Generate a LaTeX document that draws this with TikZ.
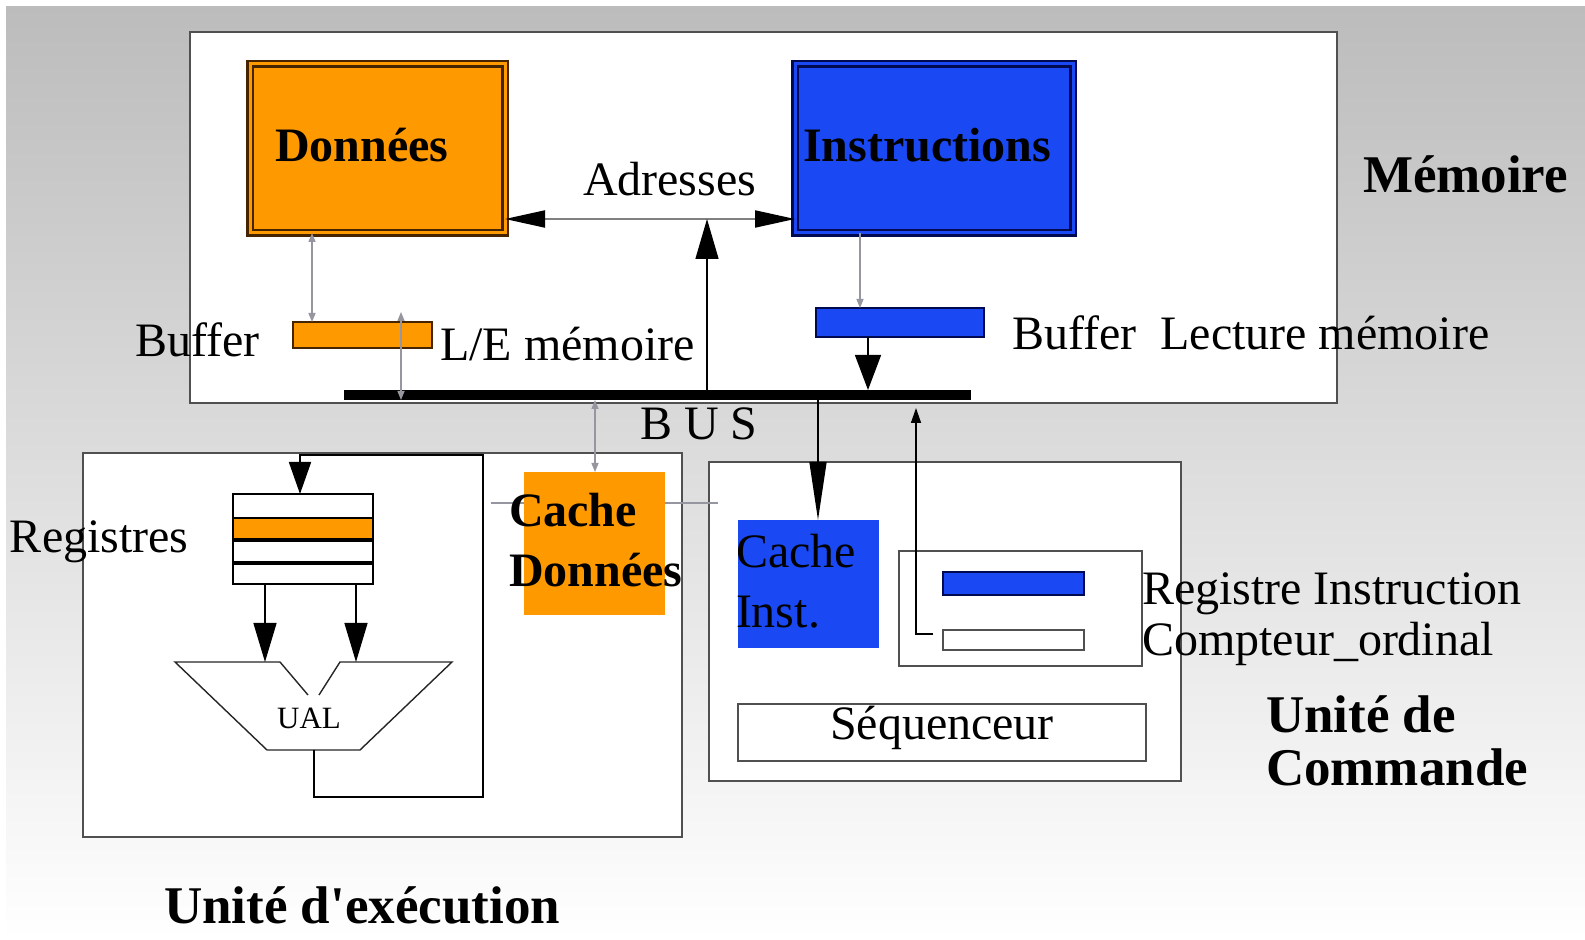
\documentclass[tikz,border=0pt]{standalone}
\usepackage{fontspec}
\setmainfont{Liberation Serif}
\usetikzlibrary{arrows.meta,fit}

\definecolor{orangeD}{RGB}{255,153,0}
\definecolor{brownD}{RGB}{70,36,0}
\definecolor{blueI}{RGB}{26,72,242}
\definecolor{navyI}{RGB}{0,10,80}
\definecolor{frameG}{RGB}{80,80,80}
\definecolor{linkG}{RGB}{150,150,160}
\definecolor{bgTop}{RGB}{188,188,188}

\begin{document}
\begin{tikzpicture}[x=0.5pt,y=-0.5pt,
  area/.style={inner sep=0pt, outer sep=0pt},
  frame/.style={area, draw=frameG, line width=1pt, fill=white},
  memdata/.style={area, fill=orangeD, draw=brownD, line width=1.1pt, double=orangeD, double distance=1.5pt},
  meminstr/.style={area, fill=blueI, draw=navyI, line width=1.1pt, double=blueI, double distance=1.5pt},
  regrow/.style={area, draw=black, line width=0.7pt, fill=white},
  lbl/.style={inner sep=0pt, outer sep=0pt, anchor=base west, font=\fontsize{24}{28}\selectfont},
  blbl/.style={lbl, font=\fontsize{24}{28}\selectfont\bfseries},
  title/.style={lbl, font=\fontsize{26.5}{30}\selectfont\bfseries},
  graylink/.style={draw=linkG, line width=0.7pt},
  graydbl/.style={graylink, {Triangle[length=4.5pt,width=3.5pt]}-{Triangle[length=4.5pt,width=3.5pt]}},
  grayone/.style={graylink, -{Triangle[length=4.5pt,width=3.5pt]}},
  wire/.style={draw=black, line width=0.7pt}
]
% page and background
\useasboundingbox (0,0) rectangle (1585,940);
\fill[white] (0,0) rectangle (1585,940);
\shade[top color=bgTop, bottom color=white] (6,7) rectangle (1585,940);

% column helpers
\coordinate (xaddr) at (707,0);
\coordinate (xdd) at (312,0);
\coordinate (xdb) at (401,0);
\coordinate (xdc) at (595,0);
\coordinate (xib) at (860,0);
\coordinate (xbi) at (868,0);
\coordinate (xci) at (818,0);
\coordinate (xco) at (916,0);
\coordinate (xl) at (265,0);
\coordinate (xr) at (356,0);
\coordinate (xfb) at (300,0);
\coordinate (xual) at (314,0);
\coordinate (yaddr) at (0,219);

% ---------------- memory ----------------
\node[frame, fit={(190,32)(1337,403)}] (mem) {};
\node[memdata, fit={(250,64)(505,233)}] (dat) {};
\node[meminstr, fit={(795,64)(1073,233)}] (ins) {};
\node[area, fill=orangeD, draw=brownD, line width=0.7pt, fit={(293,322)(432,348)}] (bufd) {};
\node[area, fill=blueI, draw=navyI, line width=0.7pt, fit={(816,308)(984,337)}] (bufi) {};
\node[area, fill=black, fit={(344,390)(971,400)}] (bus) {};

\node[blbl] (tdat) at (275,162) {Données};
\node[blbl] (tins) at (803,162) {Instructions};
\node[lbl] (taddr) at (583,196) {Adresses};
\node[title] (tmem) at (1363,193) {Mémoire};
\node[lbl] (tbufd) at (135,357) {Buffer};
\node[lbl] (tle) at (440,361) {L/E mémoire};
\node[lbl] (tbufi) at (1012,350) {Buffer\ \ Lecture mémoire};
\node[lbl] (tbus) at (640,440) {B U S};

% address path between the two memories
\coordinate (addrmid) at (xaddr |- yaddr);
\draw[draw=gray, line width=1pt,
      {Triangle[length=20pt,width=8.5pt,color=black]}-{Triangle[length=20pt,width=8.5pt,color=black]}]
  (dat.east |- yaddr) -- (ins.west |- yaddr);
\draw[wire, -{Triangle[length=20pt,width=11.5pt]}] (bus.north -| xaddr) -- (addrmid);

% data side transfers
\draw[graydbl] (dat.south -| xdd) -- (bufd.north -| xdd);
\coordinate (bdtop) at (401,312);
\draw[graydbl] (bdtop) -- (bus.south -| xdb);

% instruction side transfers
\draw[grayone] (ins.south -| xib) -- (bufi.north -| xib);
\draw[wire, -{Triangle[length=17.5pt,width=13pt]}] (bufi.south -| xbi) -- (bus.north -| xbi);

% ---------------- execution unit ----------------
\node[frame, fit={(83,453)(682,837)}] (exe) {};
\node[frame, fit={(709,462)(1181,781)}] (cmd) {};

\coordinate (glA) at (491,503);
\coordinate (glB) at (718,503);
\draw[draw=linkG, line width=0.7pt] (glA) -- (glB);

\node[area, fill=orangeD, fit={(524,472)(665,615)}] (cad) {};
\node[blbl] (tcad1) at (509,527) {Cache};
\node[blbl] (tcad2) at (509,587) {Données};

% register file
\node[regrow, fit={(233,494)(373,518)}] (r1) {};
\node[regrow, fill=orangeD, line width=1pt, fit={(233,518)(373,540)}] (r2) {};
\node[regrow, fit={(233,540)(373,563)}] (r3) {};
\node[regrow, fit={(233,563)(373,584)}] (r4) {};
\draw[line width=1.6pt] (r2.south west) -- (r2.south east);
\draw[line width=1.6pt] (r4.north west) -- (r4.north east);
\node[lbl] (treg) at (10,553) {Registres};

% arithmetic and logic unit
\node[area, fit={(175,662)(452,750)}] (ualbox) {};
\draw[draw=black!85, line width=0.7pt, fill=white]
  (308,695) -- (280,662) -- (175,662) -- (267,750) -- (360,750) -- (452,662) -- (340,662) -- (319,695);
\node[inner sep=0pt, anchor=base, font=\fontsize{15.5}{18}\selectfont] (tual) at (309,728) {UAL};

\draw[wire, -{Triangle[length=19.5pt,width=11.5pt]}] (r4.south -| xl) -- (ualbox.north -| xl);
\draw[wire, -{Triangle[length=19.5pt,width=11.5pt]}] (r4.south -| xr) -- (ualbox.north -| xr);

% result fed back to the registers
\coordinate (fbR) at (483,797);
\coordinate (fbT) at (300,455);
\draw[wire, line width=0.9pt, -{Triangle[length=16pt,width=11pt]}]
  (ualbox.south -| xual) |- (fbR) |- (fbT) -- (r1.north -| xfb);

\node[title] (texe) at (164,923) {Unité d\textquotesingle exécution};

% bus to data cache
\draw[graydbl] (bus.south -| xdc) -- (cad.north -| xdc);

% ---------------- control unit ----------------
\node[area, fill=blueI, fit={(738,520)(879,648)}] (cai) {};
\node[lbl] (tcai1) at (736,568) {Cache};
\node[lbl] (tcai2) at (736,628) {Inst.};

\node[area, draw=frameG, line width=1pt, fill=white, fit={(899,551)(1142,666)}] (rib) {};
\node[area, fill=blueI, draw=navyI, line width=0.7pt, fit={(943,572)(1084,595)}] (ri) {};
\node[area, fill=white, draw=frameG, line width=0.9pt, fit={(943,630)(1084,650)}] (co) {};
\node[lbl] (tri) at (1142,605) {Registre Instruction};
\node[lbl] (tco) at (1142,655) {Compteur\_ordinal};

\node[area, draw=frameG, line width=1pt, fill=white, fit={(738,704)(1146,761)}] (seq) {};
\node[lbl, anchor=base] (tseq) at (942,740) {Séquenceur};

\node[title] (tcmd1) at (1266,732) {Unité de};
\node[title] (tcmd2) at (1266,785) {Commande};

\draw[wire, -{Triangle[length=29pt,width=8.5pt]}] (bus.south -| xci) -- (cai.north -| xci);
\draw[wire, shorten >=4pt, -{Triangle[length=7.5pt,width=5pt]}]
  ([xshift=-5pt,yshift=3pt]co.west) -| (bus.south -| xco);
\end{tikzpicture}
\end{document}
